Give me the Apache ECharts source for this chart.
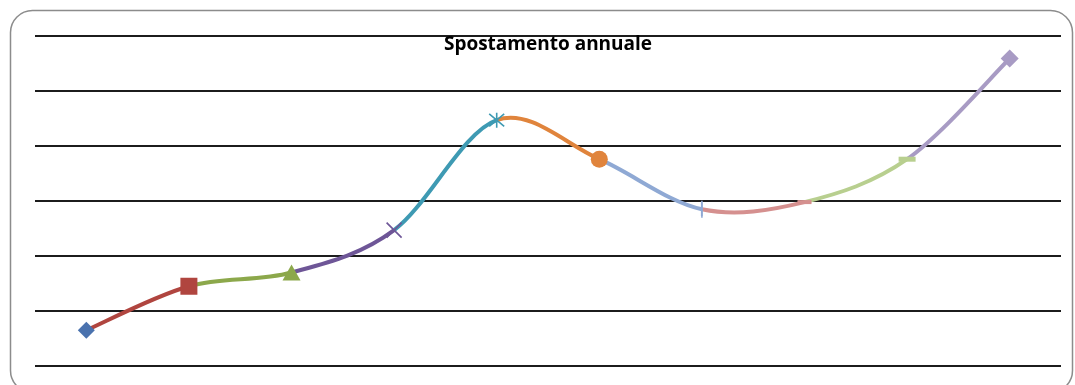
<!DOCTYPE html>
<html>
<head>
<meta charset="utf-8">
<script src="https://cdn.jsdelivr.net/npm/echarts@6/dist/echarts.min.js"></script>
<style>
  html, body { margin: 0; padding: 0; background: #fff; }
  #chart { width: 1075px; height: 385px; }
</style>
</head>
<body>
<div id="chart"></div>
<script>
// Annual displacement, one value per period
const categories = ['1', '2', '3', '4', '5', '6', '7', '8', '9', '10'];
const values = [0.65, 1.45, 1.70, 2.47, 4.47, 3.76, 2.85, 2.98, 3.76, 5.59];

// Value axis range (6 gridline bands, labels hidden)
const yMin = 0, yMax = 6, yStep = 1;

// Per-point colours; each curve segment takes the colour of the point it ends at
const pointColors = ['#4A72AE', '#B0453F', '#8CA84B', '#6E5697', '#3E9AB3',
                     '#E0843C', '#8FA9D4', '#D5908F', '#B8CF8F', '#A89BC4'];

const X_PATH = 'path://M0,0L10,10M10,0L0,10';
const STAR_PATH = 'path://M0,0L10,10M10,0L0,10M5,-1L5,11';
const PLUS_PATH = 'path://M5,0L5,10M0,5L10,5';
const pointSymbols = ['diamond', 'rect', 'triangle', X_PATH, STAR_PATH,
                      'circle', PLUS_PATH, 'rect', 'rect', 'diamond'];
const pointSizes = [17, 17, [18, 16], 15, 15, 17, [2, 17], [14, 4], [17, 5], 18];

// One item per curve segment: [index of the end point]
const segmentData = values.slice(1).map((v, k) => [k + 1, v]);

const markerData = values.map((v, i) => {
  const isPath = typeof pointSymbols[i] === 'string' && pointSymbols[i].indexOf('path://') === 0;
  return {
    value: v,
    symbol: pointSymbols[i],
    symbolSize: pointSizes[i],
    itemStyle: {
      color: isPath ? 'rgba(0,0,0,0)' : pointColors[i],
      borderColor: pointColors[i],
      borderWidth: isPath ? 1.6 : 0,
      opacity: 1
    }
  };
});

// Smoothed segment between points i-1 and i (Catmull-Rom style cubic Bezier)
function renderSegment(params, api) {
  const i = api.value(0);
  const n = values.length;
  const pt = (k) => {
    const j = Math.max(0, Math.min(n - 1, k));
    return api.coord([j, values[j]]);
  };
  const p0 = pt(i - 2), p1 = pt(i - 1), p2 = pt(i), p3 = pt(i + 1);
  const t = 1 / 6;
  return {
    type: 'bezierCurve',
    shape: {
      x1: p1[0], y1: p1[1],
      cpx1: p1[0] + (p2[0] - p0[0]) * t, cpy1: p1[1] + (p2[1] - p0[1]) * t,
      cpx2: p2[0] - (p3[0] - p1[0]) * t, cpy2: p2[1] - (p3[1] - p1[1]) * t,
      x2: p2[0], y2: p2[1]
    },
    style: { fill: 'none', stroke: pointColors[i], lineWidth: 4, lineCap: 'butt' }
  };
}

const chart = echarts.init(document.getElementById('chart'), null, { renderer: 'canvas' });
chart.setOption({
  animation: false,
  backgroundColor: '#ffffff',
  grid: { left: 35, right: 14, top: 36, bottom: 19, containLabel: false },
  graphic: [
    {
      type: 'rect',
      z: -10,
      shape: { x: 10.5, y: 10.5, width: 1062, height: 382, r: 22 },
      style: { fill: 'none', stroke: '#8c8c8c', lineWidth: 1.5 },
      silent: true
    },
    {
      type: 'text',
      z: 100,
      x: 548, y: 45,
      style: {
        text: 'Spostamento annuale',
        fontFamily: '"Open Sans", "Noto Sans", sans-serif',
        fontWeight: 'bold',
        fontSize: 19,
        fill: '#000',
        align: 'center',
        verticalAlign: 'middle'
      }
    }
  ],
  xAxis: {
    type: 'category',
    data: categories,
    boundaryGap: true,
    axisLine: { show: false },
    axisTick: { show: false },
    axisLabel: { show: false },
    splitLine: { show: false }
  },
  yAxis: {
    type: 'value',
    min: yMin, max: yMax, interval: yStep,
    axisLine: { show: false },
    axisTick: { show: false },
    axisLabel: { show: false },
    splitLine: { show: true, lineStyle: { color: '#1c1c1c', width: 2 } }
  },
  series: [
    {
      type: 'custom',
      data: segmentData,
      renderItem: renderSegment,
      clip: false,
      z: 2
    },
    {
      type: 'scatter',
      data: markerData,
      z: 3
    }
  ]
});
</script>
</body>
</html>
